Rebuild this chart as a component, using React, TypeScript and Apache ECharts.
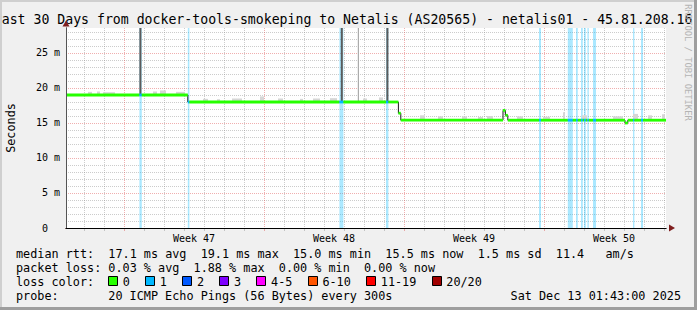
import React, { useEffect, useRef } from 'react';
import * as echarts from 'echarts';

const MONO = "'DejaVu Sans Mono', 'Liberation Mono', monospace";

// ---------- texts (title as visible in the reference, its first letter is cut off there) ----------
const titleText = 'ast 30 Days from docker-tools-smokeping to Netalis (AS20565) - netalis01 - 45.81.208.16';
const yAxisTitle = 'Seconds';
const watermark = 'RRDTOOL / TOBI OETIKER';
const probeLabel = 'probe:';
const probeText = '20 ICMP Echo Pings (56 Bytes) every 300s';
const stampText = 'Sat Dec 13 01:43:00 2025';

// ---------- axes ----------
const DAYS = 30;
const Y_MAX = 28.57;
const Y_STEP = 1;
const Y_LABEL_STEP = 5;
const weekLabels = ['Week 47', 'Week 48', 'Week 49', 'Week 50'];
const weekStartDays = [2.9, 9.9, 16.9, 23.9];
const firstDayLine = 0.9;

// ---------- median rtt (ms), step segments (start day, value, lost pings) ----------
const segStart = [0, 3.67, 3.79, 6.09, 6.17, 13.67, 13.87, 16.0, 16.12, 16.62, 16.74, 21.85, 21.97, 22.09, 23.65, 23.75, 25.09, 25.34, 25.5, 25.59, 25.75, 25.84, 25.9, 25.99, 26.07, 26.14, 26.35, 26.5, 27.95, 28.09, 28.35, 28.42, 28.75, 28.85];
const segValue = [19.0, 19.0, 19.0, 18.0, 18.0, 18.0, 18.0, 18.0, 18.0, 16.4, 15.4, 16.8, 16.1, 15.4, 15.4, 15.4, 15.4, 15.4, 15.4, 15.4, 15.4, 15.4, 15.4, 15.4, 15.4, 15.4, 15.4, 15.4, 15.0, 15.4, 15.4, 15.4, 15.4, 15.4];
const segLoss = [0, 1, 0, 1, 0, 1, 0, 1, 0, 0, 0, 0, 0, 0, 1, 0, 1, 0, 1, 0, 1, 0, 1, 0, 1, 0, 1, 0, 0, 0, 1, 0, 1, 0];

// ---------- smoke (ping spread above the median) ----------
const smokeStart = [1.1, 1.55, 1.85, 4.35, 4.7, 5.5, 6.85, 7.55, 8.3, 9.7, 10.6, 11.7, 12.35, 13.2, 14.85, 15.65, 17.7, 18.6, 19.8, 20.6, 21.05, 22.55, 23.85, 24.85, 25.8, 27.35, 28.35, 29.1, 29.8];
const smokeEnd = [1.3, 1.7, 2.45, 4.55, 5.0, 5.95, 7.1, 7.7, 8.8, 9.9, 10.85, 11.85, 12.7, 13.55, 15.05, 15.85, 17.95, 18.85, 20.05, 20.85, 21.35, 22.85, 24.2, 24.95, 26.05, 27.85, 28.6, 29.3, 29.95];
const smokeTop = [19.45, 19.5, 19.4, 19.5, 19.65, 19.45, 18.45, 18.4, 18.5, 18.8, 18.5, 18.45, 18.5, 18.55, 18.5, 18.65, 16.1, 15.95, 15.95, 15.85, 16.0, 15.95, 15.9, 16.55, 16.1, 15.95, 16.3, 16.1, 16.25];

// ---------- smoke spikes that leave the top of the scale ----------
const spikeStart = [3.67, 13.74, 14.59, 16.02];
const spikeEnd = [3.77, 13.84, 14.65, 16.12];
const spikeTop = [28.57, 28.57, 28.57, 28.57];
const spikeShade = [0, 0, 1, 0];
const spikeColors = ['#5c5c5c', '#ababab'];

// ---------- legend ----------
const lossLabels = ['0', '1', '2', '3', '4-5', '6-10', '11-19', '20/20'];
const lossColors = ['#26ff00', '#00b8ff', '#0059ff', '#7e00ff', '#ff00ff', '#ff5500', '#ff0000', '#a10000'];
const statNames = ['avg', 'max', 'min', 'now'];
const rttValues = [17.1, 19.1, 15.0, 15.5];
const rttSd = [1.5];
const rttAmS = [11.4];
const lossPct = [0.03, 1.88, 0.0, 0.0];

// ---------- colours ----------
const GRID_GRAY = 'rgba(143,143,143,0.46)';
const GRID_RED = 'rgba(222,80,80,0.46)';
const ARROW = '#7f1f1f';

function lossBin(n: number) {
  if (n <= 3) return n;
  if (n <= 5) return 4;
  if (n <= 10) return 5;
  if (n <= 19) return 6;
  return 7;
}
function withAlpha(hex: string, a: number) {
  const r = parseInt(hex.slice(1, 3), 16);
  const g = parseInt(hex.slice(3, 5), 16);
  const b = parseInt(hex.slice(5, 7), 16);
  return `rgba(${r},${g},${b},${a})`;
}

function buildOption() {
  const segEnd = segStart.map((s, i) => (i + 1 < segStart.length ? segStart[i + 1] : DAYS));
  const segData = segStart.map((s, i) => [s, segEnd[i], segValue[i], segLoss[i]]);
  const medianAt = (d: number) => {
    for (let i = 0; i < segStart.length; i++) if (d >= segStart[i] && d < segEnd[i]) return segValue[i];
    return segValue[segValue.length - 1];
  };
  const lineData: number[][] = [];
  segData.forEach((d) => {
    lineData.push([d[0], d[2]]);
    lineData.push([d[1], d[2]]);
  });
  const smokeData = smokeStart.map((s, i) => [s, smokeEnd[i], smokeTop[i], medianAt(s)]);
  const spikeData = spikeStart.map((s, i) => [s, spikeEnd[i], spikeTop[i], medianAt(s), spikeShade[i]]);

  const tenths = Array.from({ length: DAYS * 10 + 1 }, (_, i) => String(i));
  const weekIdx = weekStartDays.map((d) => Math.round(d * 10));
  const labelIdx = weekStartDays.map((d) => Math.round((d + 3.5) * 10));
  const dayOff = Math.round(firstDayLine * 10);
  const isDayLine = (i: number) => i % 10 === dayOff && weekIdx.indexOf(i) < 0;
  const isWeekLine = (i: number) => weekIdx.indexOf(i) >= 0;
  const isLabel = (i: number) => labelIdx.indexOf(i) >= 0;

  const yGridColors = [GRID_RED, GRID_GRAY, GRID_GRAY, GRID_GRAY, GRID_GRAY];

  const rectBetween = (api: any, x0: number, y0: number, x1: number, y1: number) => {
    const a = api.coord([x0, y0]);
    const b = api.coord([x1, y1]);
    return { x: a[0], y: a[1], width: b[0] - a[0], height: b[1] - a[1] };
  };

  // legend rows
  const charW = 7.1;
  const legX = 16;
  const valX = legX + 13 * charW;
  const row1 =
    'median rtt:  ' +
    rttValues.map((v, i) => `${v.toFixed(1)} ms ${statNames[i]}`).join('  ') +
    `  ${rttSd[0].toFixed(1)} ms sd  ${rttAmS[0].toFixed(1)}   am/s`;
  const row2 = 'packet loss: ' + lossPct.map((v, i) => `${v.toFixed(2)} % ${statNames[i]}`).join('  ');
  const legFont = { fontFamily: MONO, fontSize: 11.8, fill: '#000' };
  const txt = (text: string, x: number, y: number, extra: any = {}) => ({
    type: 'text',
    x,
    y,
    silent: true,
    style: { text, ...legFont, align: 'left', verticalAlign: 'middle', textAlign: 'left', textVerticalAlign: 'middle', ...extra },
  });

  const graphics: any[] = [];
  graphics.push(
    txt(titleText, 1.7, 19, { fontSize: 13.2 }),
    {
      type: 'text', x: 11, y: 128, rotation: Math.PI / 2, silent: true,
      style: { text: yAxisTitle, fontFamily: MONO, fontSize: 11.8, fill: '#000', align: 'center', verticalAlign: 'middle', textAlign: 'center', textVerticalAlign: 'middle' },
    },
    {
      type: 'text', x: 688, y: 62.5, rotation: -Math.PI / 2, silent: true,
      style: { text: watermark, fontFamily: MONO, fontSize: 8.8, fill: '#b4b4b4', align: 'center', verticalAlign: 'middle', textAlign: 'center', textVerticalAlign: 'middle' },
    },
    txt(row1, legX, 254),
    txt(row2, legX, 268),
    txt('loss color:', legX, 282),
    txt(probeLabel, legX, 296),
    txt(probeText, valX, 296),
    txt(stampText, 681, 296, { align: 'right', textAlign: 'right' })
  );
  let bx = 108;
  lossLabels.forEach((lab, i) => {
    graphics.push({
      type: 'rect', silent: true,
      shape: { x: Math.round(bx) + 0.5, y: 276.5, width: 9, height: 9 },
      style: { fill: lossColors[i], stroke: '#000', lineWidth: 1 },
    });
    graphics.push(txt(lab, bx + 14.7, 282));
    bx += 30 + lab.length * charW;
  });
  // 3-D frame
  graphics.push(
    { type: 'rect', silent: true, z: 100, shape: { x: 0, y: 0, width: 697, height: 2 }, style: { fill: '#cfcfcf' } },
    { type: 'rect', silent: true, z: 100, shape: { x: 0, y: 0, width: 2, height: 310 }, style: { fill: '#cfcfcf' } },
    { type: 'rect', silent: true, z: 101, shape: { x: 694, y: 0, width: 3, height: 310 }, style: { fill: '#9e9e9e' } },
    { type: 'rect', silent: true, z: 101, shape: { x: 0, y: 307, width: 697, height: 3 }, style: { fill: '#9e9e9e' } }
  );

  const plainValueX = (extra: any) => ({
    type: 'value', min: 0, max: DAYS, position: 'bottom', offset: 0,
    axisTick: { show: false }, axisLabel: { show: false }, splitLine: { show: false }, ...extra,
  });
  const plainValueY = (extra: any) => ({
    type: 'value', min: 0, max: Y_MAX, position: 'left', offset: 0,
    axisTick: { show: false }, axisLabel: { show: false }, splitLine: { show: false }, ...extra,
  });
  const catX = (extra: any) => ({
    type: 'category', data: tenths, boundaryGap: false, position: 'bottom', offset: 0,
    axisLine: { show: false }, axisLabel: { show: false }, axisTick: { show: false }, splitLine: { show: false }, ...extra,
  });

  return {
    animation: false,
    backgroundColor: '#f0f0f0',
    grid: { left: 66, top: 28, width: 600, height: 200, show: true, backgroundColor: '#ffffff', borderWidth: 0 },
    xAxis: [
      plainValueX({
        z: 6,
        axisLine: { show: true, symbol: ['none', 'triangle'], symbolSize: [7, 6], symbolOffset: [0, 6], lineStyle: { color: ARROW, width: 1 } },
      }),
      plainValueX({ z: 7, axisLine: { show: true, lineStyle: { color: '#000', width: 1 } } }),
      catX({
        z: 0,
        axisTick: { show: true, interval: isDayLine, length: 3, lineStyle: { color: GRID_GRAY } },
        splitLine: { show: true, interval: isDayLine, lineStyle: { color: GRID_GRAY, type: [1, 1], width: 1 } },
      }),
      catX({
        z: 0,
        axisTick: { show: true, interval: isWeekLine, length: 3, lineStyle: { color: GRID_RED } },
        splitLine: { show: true, interval: isWeekLine, lineStyle: { color: GRID_RED, type: [1, 1], width: 1 } },
      }),
      catX({
        z: 0,
        axisLabel: {
          show: true, interval: isLabel, margin: 5, fontFamily: MONO, fontSize: 10, color: '#000',
          formatter: (_v: string, idx: number) => weekLabels[labelIdx.indexOf(idx)] || '',
        },
      }),
    ],
    yAxis: [
      {
        type: 'value', min: 0, max: Y_MAX, interval: Y_STEP, position: 'left', offset: 0, z: 0,
        axisLine: { show: false }, axisTick: { show: false },
        axisLabel: {
          show: true, margin: 6, fontFamily: MONO, fontSize: 10, color: '#000',
          formatter: (v: number) => (Math.abs(v % Y_LABEL_STEP) < 1e-6 ? (v === 0 ? '0  ' : `${v} m`) : ''),
        },
        splitLine: { show: true, showMaxLine: false, lineStyle: { color: yGridColors, type: [1, 1], width: 1 } },
      },
      plainValueY({
        z: 6,
        axisLine: { show: true, symbol: ['none', 'triangle'], symbolSize: [7, 6], symbolOffset: [0, 4.5], lineStyle: { color: ARROW, width: 1 } },
      }),
      plainValueY({ z: 7, axisLine: { show: true, lineStyle: { color: '#555', width: 1 } } }),
    ],
    series: [
      {
        type: 'custom', name: 'loss', xAxisIndex: 0, yAxisIndex: 0, z: 1, clip: true, silent: true,
        data: segData.filter((d) => d[3] > 0),
        renderItem: (_p: any, api: any) => ({
          type: 'rect',
          shape: rectBetween(api, api.value(0), Y_MAX, api.value(1), 0),
          style: { fill: withAlpha(lossColors[lossBin(api.value(3))], 0.33) },
        }),
      },
      {
        type: 'custom', name: 'smoke', xAxisIndex: 0, yAxisIndex: 0, z: 2, clip: true, silent: true,
        data: smokeData,
        renderItem: (_p: any, api: any) => ({
          type: 'rect',
          shape: rectBetween(api, api.value(0), api.value(2), api.value(1), api.value(3)),
          style: { fill: '#d6d6d6' },
        }),
      },
      {
        type: 'custom', name: 'spikes', xAxisIndex: 0, yAxisIndex: 0, z: 3, clip: true, silent: true,
        data: spikeData,
        renderItem: (_p: any, api: any) => ({
          type: 'rect',
          shape: rectBetween(api, api.value(0), api.value(2), api.value(1), api.value(3)),
          style: { fill: spikeColors[api.value(4)] },
        }),
      },
      {
        type: 'line', name: 'median', xAxisIndex: 0, yAxisIndex: 0, z: 4, clip: true, silent: true,
        data: lineData, symbol: 'none', showSymbol: false,
        lineStyle: { color: '#1a1a1a', width: 1 },
      },
      {
        type: 'custom', name: 'median band', xAxisIndex: 0, yAxisIndex: 0, z: 5, clip: true, silent: true,
        data: segData,
        renderItem: (_p: any, api: any) => {
          const a = api.coord([api.value(0), api.value(2)]);
          const b = api.coord([api.value(1), api.value(2)]);
          return {
            type: 'rect',
            shape: { x: a[0], y: a[1] - 1.4, width: b[0] - a[0], height: 2.8 },
            style: { fill: lossColors[lossBin(api.value(3))] },
          };
        },
      },
    ],
    graphic: graphics,
  };
}

export default function App() {
  const ref = useRef<HTMLDivElement>(null);
  useEffect(() => {
    if (!ref.current) return;
    const chart = echarts.init(ref.current, null, { renderer: 'svg' });
    chart.setOption(buildOption() as any);
    return () => chart.dispose();
  }, []);
  return <div ref={ref} style={{ position: 'fixed', left: 0, top: 0, width: 697, height: 310 }} />;
}
